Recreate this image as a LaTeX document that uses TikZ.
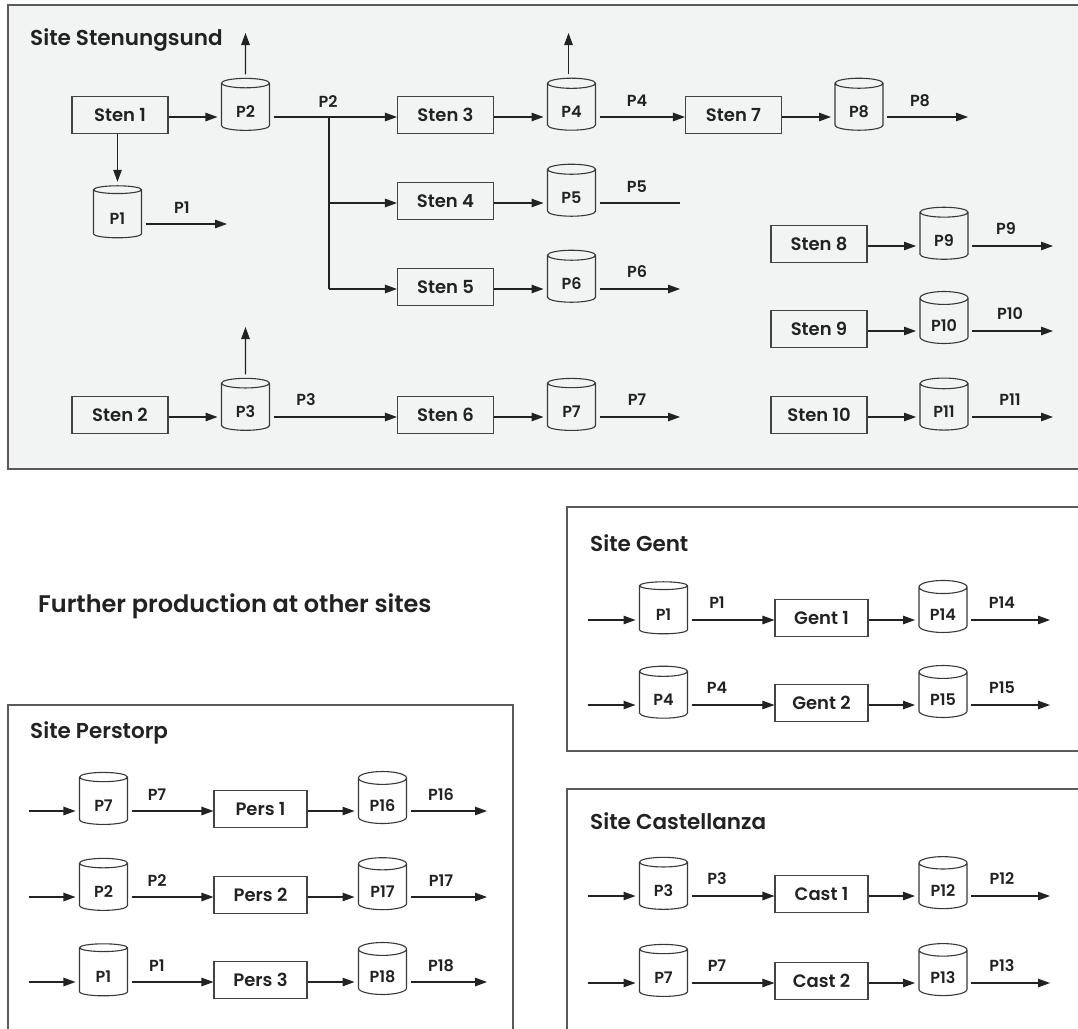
\documentclass[tikz,border=0pt]{standalone}
\usepackage{fontspec}
\IfFontExistsTF{Poppins SemiBold}{\setmainfont{Poppins SemiBold}}{\setmainfont{Poppins}[FakeBold=3]}
\usetikzlibrary{shapes.geometric,arrows.meta}
\definecolor{panelfill}{HTML}{F2F4F4}
\definecolor{panelline}{HTML}{5A5A5A}
\definecolor{ink}{HTML}{222222}
\newcommand\cyltext[1]{\raisebox{-4.5pt}[\height][\depth]{#1}}
\tikzset{
  proc/.style={draw=ink!85, line width=1.1pt, minimum width=96pt, minimum height=37pt, inner sep=0pt, font=\fontsize{18}{20}\selectfont, text=ink},
  cyl/.style={cylinder, shape border rotate=90, draw=ink!90, line width=1.1pt, minimum width=48pt, minimum height=52pt, aspect=0.5, inner sep=0pt, outer sep=4pt, font=\fontsize{16}{17}\selectfont, text=ink},
  lbl/.style={font=\fontsize{16}{17}\selectfont, text=ink, inner sep=0pt},
  ttl/.style={font=\fontsize{21.5}{24}\selectfont, text=ink, anchor=west, inner sep=0pt},
  arr/.style={draw=ink, line width=1.1pt, -{Triangle[length=12pt,width=8.5pt]}},
  ln/.style={draw=ink, line width=1.1pt},
  panel/.style={draw=panelline, line width=1.4pt}
}
\begin{document}
\begin{tikzpicture}[x=1pt,y=-1pt]
\clip (0,0) rectangle (1078,1028);
\fill[white] (0,0) rectangle (1078,1028);
% ---------- Site Stenungsund ----------
\draw[panel, fill=panelfill] (8,5) rectangle (1095,469);
\node[ttl] (tSten) at (30,40) {Site Stenungsund};
% row coordinates
\coordinate (ra) at (0,117);
\coordinate (rb) at (0,203);
\coordinate (rc) at (0,289);
\coordinate (rd) at (0,417);
\coordinate (re) at (0,246);
\coordinate (rf) at (0,331);
\coordinate (rp1) at (0,224);
% nodes
\node[proc] (s1) at (120,115) {Sten 1};
\node[cyl] (p2) at (245.5,107) {\cyltext{P2}};
\node[cyl] (p1) at (117.5,214) {\cyltext{P1}};
\node[proc] (s3) at (445.5,115) {Sten 3};
\node[cyl] (p4) at (571.5,107) {\cyltext{P4}};
\node[proc] (s7) at (733.5,115) {Sten 7};
\node[cyl] (p8) at (859,107) {\cyltext{P8}};
\node[proc] (s4) at (445.5,201) {Sten 4};
\node[cyl] (p5) at (571.5,193) {\cyltext{P5}};
\node[proc] (s5) at (445.5,287) {Sten 5};
\node[cyl] (p6) at (571.5,279) {\cyltext{P6}};
\node[proc] (s8) at (819,244) {Sten 8};
\node[cyl] (p9) at (944,236) {\cyltext{P9}};
\node[proc] (s9) at (819,329) {Sten 9};
\node[cyl] (p10) at (944,321) {\cyltext{P10}};
\node[proc] (s10) at (819,415) {Sten 10};
\node[cyl] (p11) at (944,407) {\cyltext{P11}};
\node[proc] (s2) at (120,415) {Sten 2};
\node[cyl] (p3) at (245.5,407) {\cyltext{P3}};
\node[proc] (s6) at (445.5,415) {Sten 6};
\node[cyl] (p7) at (571.5,407) {\cyltext{P7}};
% free ends
\coordinate (p2u) at (245.5,33);
\coordinate (p4u) at (568.5,33);
\coordinate (p3u) at (245.5,327);
\coordinate (j) at (329,117);
\coordinate (jb) at (329,289);
\coordinate (p1o) at (227,224);
\coordinate (p8o) at (968,117);
\coordinate (p5o) at (680,203);
\coordinate (p6o) at (680,289);
\coordinate (p7o) at (680,417);
\coordinate (p9o) at (1053,246);
\coordinate (p10o) at (1053,331);
\coordinate (p11o) at (1053,417);
% labels
\node[lbl] (lp2) at (328,102) {P2};
\node[lbl] (lp1) at (182,208) {P1};
\node[lbl] (lp4) at (637,101) {P4};
\node[lbl] (lp5) at (637,187) {P5};
\node[lbl] (lp6) at (637,272) {P6};
\node[lbl] (lp3) at (306,400) {P3};
\node[lbl] (lp7) at (637,400) {P7};
\node[lbl] (lp8) at (920,101) {P8};
\node[lbl] (lp9) at (1006,229) {P9};
\node[lbl] (lp10) at (1010,314) {P10};
\node[lbl] (lp11) at (1010,400) {P11};
% connectors
\draw[arr] (ra -| s1.east) -- (ra -| p2.west);
\draw[arr] (p1.north |- s1.south) -- (p1.north);
\draw[arr] (p2.north) -- (p2u);
\draw[arr] (rp1 -| p1.east) -- (p1o);
\draw[ln] (ra -| p2.east) -- (j) -- (jb);
\draw[arr] (j) -- (ra -| s3.west);
\draw[arr] (rb -| j) -- (rb -| s4.west);
\draw[arr] (jb) -- (rc -| s5.west);
\draw[arr] (ra -| s3.east) -- (ra -| p4.west);
\draw[arr] (p4u |- p4.north) -- (p4u);
\draw[arr] (ra -| p4.east) -- (ra -| s7.west);
\draw[arr] (ra -| s7.east) -- (ra -| p8.west);
\draw[arr] (ra -| p8.east) -- (p8o);
\draw[arr] (rb -| s4.east) -- (rb -| p5.west);
\draw[ln] (rb -| p5.east) -- (p5o);
\draw[arr] (rc -| s5.east) -- (rc -| p6.west);
\draw[arr] (rc -| p6.east) -- (p6o);
\draw[arr] (re -| s8.east) -- (re -| p9.west);
\draw[arr] (re -| p9.east) -- (p9o);
\draw[arr] (rf -| s9.east) -- (rf -| p10.west);
\draw[arr] (rf -| p10.east) -- (p10o);
\draw[arr] (rd -| s10.east) -- (rd -| p11.west);
\draw[arr] (rd -| p11.east) -- (p11o);
\draw[arr] (rd -| s2.east) -- (rd -| p3.west);
\draw[arr] (p3.north) -- (p3u);
\draw[arr] (rd -| p3.east) -- (rd -| s6.west);
\draw[arr] (rd -| s6.east) -- (rd -| p7.west);
\draw[arr] (rd -| p7.east) -- (p7o);
% ---------- Further production ----------
\node[ttl, font=\fontsize{24}{26}\selectfont] (further) at (38,606) {Further production at other sites};
% ---------- Site Gent ----------
\draw[panel] (567,507) rectangle (1095,751);
\node[ttl] (tGent) at (590,543) {Site Gent};
\foreach \r/\pa/\g/\pb/\k in {620/P1/Gent 1/P14/1, 705/P4/Gent 2/P15/2}{
  \coordinate (gr\k) at (0,\r);
  \coordinate (gi\k) at (588,\r);
  \coordinate (go\k) at (1050,\r);
  \node[cyl] (ga\k) at (663.5,\r-10) {\cyltext{\pa}};
  \node[proc, minimum width=93pt] (gb\k) at (821.5,\r-2) {\g};
  \node[cyl] (gc\k) at (943,\r-10) {\cyltext{\pb}};
  \node[lbl] (gla\k) at (717,\r-17) {\pa};
  \node[lbl] (glb\k) at (1002,\r-17) {\pb};
  \draw[arr] (gi\k) -- (gr\k -| ga\k.west);
  \draw[arr] (gr\k -| ga\k.east) -- (gr\k -| gb\k.west);
  \draw[arr] (gr\k -| gb\k.east) -- (gr\k -| gc\k.west);
  \draw[arr] (gr\k -| gc\k.east) -- (go\k);
}
% ---------- Site Perstorp ----------
\draw[panel] (8,705) rectangle (513,1040);
\node[ttl] (tPers) at (30,733) {Site Perstorp};
\foreach \r/\pa/\g/\pb/\k in {811/P7/Pers 1/P16/1, 897/P2/Pers 2/P17/2, 982/P1/Pers 3/P18/3}{
  \coordinate (pr\k) at (0,\r);
  \coordinate (pi\k) at (29,\r);
  \coordinate (po\k) at (487,\r);
  \node[cyl] (pa\k) at (103.5,\r-10) {\cyltext{\pa}};
  \node[proc, minimum width=93pt] (pb\k) at (260.5,\r-2) {\g};
  \node[cyl] (pc\k) at (382.5,\r-10) {\cyltext{\pb}};
  \node[lbl] (pla\k) at (157,\r-16) {\pa};
  \node[lbl] (plb\k) at (441,\r-16) {\pb};
  \draw[arr] (pi\k) -- (pr\k -| pa\k.west);
  \draw[arr] (pr\k -| pa\k.east) -- (pr\k -| pb\k.west);
  \draw[arr] (pr\k -| pb\k.east) -- (pr\k -| pc\k.west);
  \draw[arr] (pr\k -| pc\k.east) -- (po\k);
}
% ---------- Site Castellanza ----------
\draw[panel] (567,789) rectangle (1095,1040);
\node[ttl] (tCast) at (590,821) {Site Castellanza};
\foreach \r/\pa/\g/\pb/\k in {896/P3/Cast 1/P12/1, 983/P7/Cast 2/P13/2}{
  \coordinate (cr\k) at (0,\r);
  \coordinate (ci\k) at (588,\r);
  \coordinate (co\k) at (1050,\r);
  \node[cyl] (ca\k) at (663.5,\r-10) {\cyltext{\pa}};
  \node[proc, minimum width=93pt] (cb\k) at (821.5,\r-2) {\g};
  \node[cyl] (cc\k) at (943,\r-10) {\cyltext{\pb}};
  \node[lbl] (cla\k) at (717,\r-17) {\pa};
  \node[lbl] (clb\k) at (1002,\r-17) {\pb};
  \draw[arr] (ci\k) -- (cr\k -| ca\k.west);
  \draw[arr] (cr\k -| ca\k.east) -- (cr\k -| cb\k.west);
  \draw[arr] (cr\k -| cb\k.east) -- (cr\k -| cc\k.west);
  \draw[arr] (cr\k -| cc\k.east) -- (co\k);
}
\end{tikzpicture}
\end{document}
